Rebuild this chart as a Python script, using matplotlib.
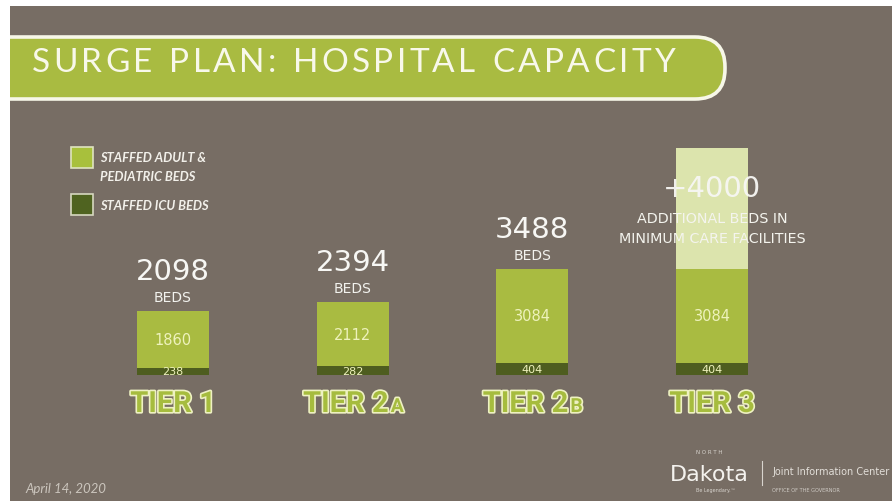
import matplotlib.pyplot as plt
from matplotlib.patches import Rectangle, FancyBboxPatch
import matplotlib.patheffects as pe

# --- data ---
tiers = ["TIER 1", "TIER 2A", "TIER 2B", "TIER 3"]
icu_beds = [238, 282, 404, 404]
adult_beds = [1860, 2112, 3084, 3084]
extra_beds = [0, 0, 0, 4000]
totals = [2098, 2394, 3488, 3488]

BG = "#776d64"
GREEN = "#a9bb41"
DARK = "#4e5d1f"
PALE = "#dce4ad"
LABEL = "#eef2bc"

W, H = 892, 502
PT = 0.72  # pixels -> points at dpi 100

fig = plt.figure(figsize=(W / 100, H / 100), dpi=100, facecolor=BG)
renderer = fig.canvas.get_renderer()

# full-figure layer in pixel units for the slide decoration
deco = fig.add_axes([0, 0, 1, 1], zorder=0)
deco.set_xlim(0, W)
deco.set_ylim(H, 0)
deco.axis("off")

# banner
deco.add_patch(FancyBboxPatch((-60, 38), 785, 62, boxstyle="round,pad=0,rounding_size=30",
                              fc=GREEN, ec="#f7f7e8", lw=2.6))

# title with wide letter spacing, one glyph at a time
title = "SURGE PLAN: HOSPITAL CAPACITY"
tx = 32
for ch in title:
    if ch == " ":
        tx += 13
        continue
    t = deco.text(tx, 63, ch, fontsize=24, family="Lato",
                  color="#f8f8ea", va="center", ha="left")
    bb = t.get_window_extent(renderer)
    tx += bb.width + 3.4

# white scan borders
deco.add_patch(Rectangle((0, 0), W, 7, fc="white", ec="none", zorder=5))
deco.add_patch(Rectangle((0, 0), 10, H, fc="white", ec="none", zorder=5))

# legend
deco.add_patch(Rectangle((71, 148), 22, 21, fc="#a8c03c", ec="#dfe3c0", lw=1.2))
deco.add_patch(Rectangle((71, 195), 22, 21, fc="#4f6320", ec="#d7d8c0", lw=1.2))
leg_kw = dict(fontsize=9.3, family="Lato", style="italic", weight="bold",
              color="#f2f0ea", va="center")
deco.text(100, 158, "STAFFED ADULT &", **leg_kw)
deco.text(100, 177, "PEDIATRIC BEDS", **leg_kw)
deco.text(100, 206, "STAFFED ICU BEDS", **leg_kw)

# footer
deco.text(25, 489, "April 14, 2020", fontsize=9.5, family="Lato", style="italic",
          color="#cbc5bd", va="center")
deco.text(709, 453, "N O R T H", fontsize=4, color="#d8d4ce", ha="center", va="center")
deco.text(709, 475, "Dakota", fontsize=16, color="#f4f2ee", ha="center", va="center")
deco.text(716, 491, "Be Legendary.\u2122", fontsize=3.5, color="#d8d4ce", ha="center", va="center")
deco.plot([762, 762], [462, 486], color="#d8d4ce", lw=0.8)
deco.text(772, 472, "Joint Information Center", fontsize=7, color="#e2ded8", va="center")
deco.text(772, 491, "OFFICE OF THE GOVERNOR", fontsize=3.6, color="#d0ccc6", va="center")

# bar chart
ax = fig.add_axes([83.2 / W, 126 / H, 718.7 / W, 243 / H], zorder=2)
ax.patch.set_alpha(0)
ax.axis("off")
ax.set_xlim(-0.5, 3.5)
ax.set_ylim(0, 8000)

x = list(range(len(tiers)))
ax.bar(x, icu_beds, width=0.4, color=DARK)
base = [a + b for a, b in zip(icu_beds, adult_beds)]
ax.bar(x, adult_beds, bottom=icu_beds, width=0.4, color=GREEN)
ax.bar(x, extra_beds, bottom=base, width=0.4, color=PALE)

for i in x:
    top = base[i]
    ax.text(i, icu_beds[i] + adult_beds[i] / 2, str(adult_beds[i]), fontsize=10.5,
            color=LABEL, ha="center", va="center")
    ax.text(i, icu_beds[i] / 2, str(icu_beds[i]), fontsize=8, color=LABEL,
            ha="center", va="center")
    if extra_beds[i] == 0:
        ax.annotate(str(totals[i]), (i, top), xytext=(0, 40 * PT), textcoords="offset points",
                    fontsize=21, color="#f7f7f4", ha="center", va="center")
        ax.annotate("BEDS", (i, top), xytext=(0, 14 * PT), textcoords="offset points",
                    fontsize=10, color="#f2f2ee", ha="center", va="center")
    else:
        top2 = top + extra_beds[i]
        ax.annotate("+%d" % extra_beds[i], (i, top2), xytext=(0, -40 * PT),
                    textcoords="offset points", fontsize=21, color="#f7f7f4",
                    ha="center", va="center", alpha=0.95)
        ax.annotate("ADDITIONAL BEDS IN", (i, top2), xytext=(0, -70 * PT),
                    textcoords="offset points", fontsize=10.3, color="#f4f4ee",
                    ha="center", va="center")
        ax.annotate("MINIMUM CARE FACILITIES", (i, top2), xytext=(0, -90 * PT),
                    textcoords="offset points", fontsize=10.3, color="#f4f4ee",
                    ha="center", va="center")

# tier labels: green glyphs with a pale outline
tier_fx = [pe.Stroke(linewidth=2.4, foreground="#eef1c2"), pe.Normal()]
tier_kw = dict(family="Roboto", weight="bold", color="#a6bc3e", va="center",
               textcoords="offset points")
for i, name in enumerate(tiers):
    main, small = name, ""
    if name[-1] in "AB":
        main, small = name[:-1], name[-1]
    if small:
        t = ax.annotate(main, (i, 0), xytext=(36 * PT, -29 * PT), ha="right",
                        fontsize=21, **tier_kw)
        t.set_path_effects(tier_fx)
        s = ax.annotate(small, (i, 0), xytext=(38 * PT, -32 * PT), ha="left",
                        fontsize=14, **tier_kw)
        s.set_path_effects(tier_fx)
    else:
        t = ax.annotate(main, (i, 0), xytext=(0, -29 * PT), ha="center",
                        fontsize=21, **tier_kw)
        t.set_path_effects(tier_fx)

fig.savefig("out.png", dpi=100, facecolor=BG)
